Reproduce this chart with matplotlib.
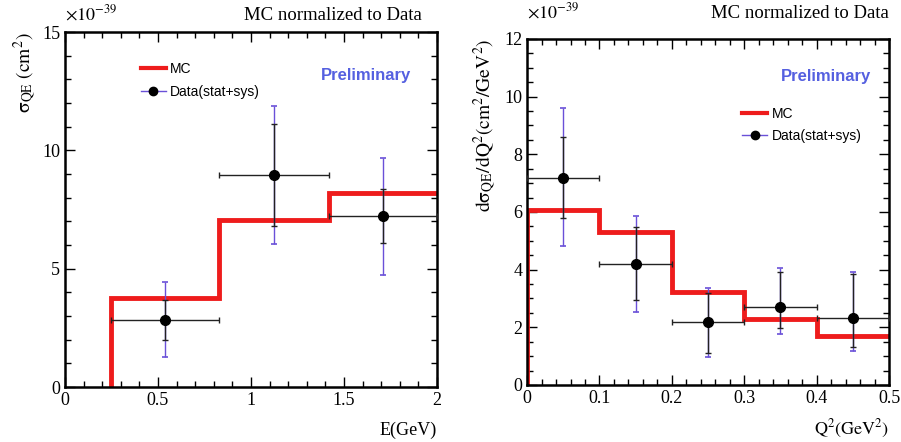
import numpy as np
import matplotlib
matplotlib.use("Agg")
import matplotlib.pyplot as plt
from matplotlib.ticker import MultipleLocator
from matplotlib.lines import Line2D

plt.rcParams["font.family"] = ["Liberation Serif", "DejaVu Serif"]
plt.rcParams["mathtext.fontset"] = "stix"

# Left panel: cross section vs neutrino energy (units of 1e-39 cm^2)
e_edges = [0.25, 0.83, 1.42, 2.0]
e_mc = [3.75, 7.05, 8.2]
e_x = [0.54, 1.125, 1.71]
e_y = [2.85, 8.95, 7.22]
e_stat_lo = [1.99, 6.8, 6.07]
e_stat_hi = [3.68, 11.1, 8.35]
e_tot_lo = [1.28, 6.03, 4.73]
e_tot_hi = [4.42, 11.87, 9.66]
e_ticks = [0, 0.5, 1, 1.5, 2]
e_ticklabels = ["0", "0.5", "1", "1.5", "2"]

# Right panel: dsigma/dQ2 (units of 1e-39 cm^2/GeV^2)
q_edges = [0.0, 0.1, 0.2, 0.3, 0.4, 0.5]
q_mc = [6.07, 5.32, 3.24, 2.29, 1.71]
q_x = [0.05, 0.15, 0.25, 0.35, 0.45]
q_y = [7.19, 4.2, 2.18, 2.72, 2.31]
q_stat_lo = [5.8, 2.95, 1.1, 1.97, 1.33]
q_stat_hi = [8.61, 5.47, 3.2, 3.91, 3.85]
q_tot_lo = [4.82, 2.54, 0.98, 1.77, 1.18]
q_tot_hi = [9.6, 5.86, 3.37, 4.05, 3.93]
q_ticks = [0, 0.1, 0.2, 0.3, 0.4, 0.5]
q_ticklabels = ["0", "0.1", "0.2", "0.3", "0.4", "0.5"]

RED = "#ee1c1c"
PURPLE = "#6a50d8"
BLUE_TXT = "#5560e0"


def draw_panel(ax, edges, mc, x, y, slo, shi, tlo, thi, lw_mc):
    edges = np.asarray(edges)
    mc = np.asarray(mc)
    xs = np.concatenate([[edges[0]], np.repeat(edges[1:-1], 2), [edges[-1]]])
    xs = np.concatenate([[edges[0]], xs])
    ys = np.concatenate([[0], np.repeat(mc, 2)])
    ax.plot(xs, ys, color=RED, lw=lw_mc, solid_joinstyle="miter", zorder=2)

    x = np.asarray(x)
    y = np.asarray(y)
    half = np.diff(edges) / 2
    ax.errorbar(x, y, yerr=[y - np.asarray(tlo), np.asarray(thi) - y], fmt="none",
                ecolor=PURPLE, elinewidth=1.0, capsize=2.5, capthick=1.2, zorder=3)
    ax.errorbar(x, y, yerr=[y - np.asarray(slo), np.asarray(shi) - y], xerr=half,
                fmt="o", color="black", ms=7, ecolor="#222222", elinewidth=1.0,
                capsize=2, capthick=1.0, zorder=4)

    for s in ax.spines.values():
        s.set_linewidth(1.8)
    ax.tick_params(which="both", direction="in", top=True, right=True, labelsize=13)
    ax.tick_params(which="major", length=7, width=1)
    ax.tick_params(which="minor", length=4, width=1)


fig = plt.figure(figsize=(9.01, 4.42), dpi=100)
ax1 = fig.add_axes([0.0721, 0.1244, 0.4129, 0.8032])
ax2 = fig.add_axes([0.585, 0.129, 0.4017, 0.7828])

leg_handles = [Line2D([], [], color=RED, lw=3),
               Line2D([], [], color=PURPLE, lw=1, marker="o", mfc="black", mec="black", ms=6)]
leg_labels = ["MC", "Data(stat+sys)"]

draw_panel(ax1, e_edges, e_mc, e_x, e_y, e_stat_lo, e_stat_hi, e_tot_lo, e_tot_hi, 3.5)
ax1.set_xticks(e_ticks)
ax1.set_xticklabels(e_ticklabels)
ax1.set_yticks([0, 5, 10, 15])
ax1.set_yticklabels(["0", "5", "10", "15"])
ax1.xaxis.set_minor_locator(MultipleLocator(0.1))
ax1.yaxis.set_minor_locator(MultipleLocator(1))
ax1.set_xlim(0, 2)
ax1.set_ylim(0, 15)
ax1.set_xlabel("E(GeV)", fontsize=13, loc="right", labelpad=9)
ax1.set_ylabel(r"$\mathrm{\sigma_{QE}\ (cm^2)}$", fontsize=14, loc="top", labelpad=2)
ax1.text(0.0, 1.035, r"$\mathrm{\times 10^{-39}}$", transform=ax1.transAxes, fontsize=13)
ax1.text(0.96, 1.035, "MC normalized to Data", transform=ax1.transAxes, fontsize=13.5, ha="right")
ax1.text(0.93, 0.865, "Preliminary", transform=ax1.transAxes, fontsize=12, ha="right",
         color=BLUE_TXT, family="Liberation Sans", weight="bold")
ax1.legend(leg_handles, leg_labels, loc="upper left", bbox_to_anchor=(0.17, 0.95),
           frameon=False, prop={"family": "Liberation Sans", "size": 10},
           handlelength=1.8, handletextpad=0.3, labelspacing=0.6)

draw_panel(ax2, q_edges, q_mc, q_x, q_y, q_stat_lo, q_stat_hi, q_tot_lo, q_tot_hi, 3.5)
ax2.set_xticks(q_ticks)
ax2.set_xticklabels(q_ticklabels)
ax2.set_yticks([0, 2, 4, 6, 8, 10, 12])
ax2.xaxis.set_minor_locator(MultipleLocator(0.02))
ax2.yaxis.set_minor_locator(MultipleLocator(0.5))
ax2.set_xlim(0, 0.5)
ax2.set_ylim(0, 12)
ax2.set_xlabel(r"$\mathrm{Q^2(GeV^2)}$", fontsize=13, loc="right", labelpad=8)
ax2.set_ylabel(r"$\mathrm{d\sigma_{QE}/dQ^2(cm^2/GeV^2)}$", fontsize=14, loc="top", labelpad=4)
ax2.text(0.0, 1.06, r"$\mathrm{\times 10^{-39}}$", transform=ax2.transAxes, fontsize=13)
ax2.text(1.0, 1.06, "MC normalized to Data", transform=ax2.transAxes, fontsize=13.5, ha="right")
ax2.text(0.95, 0.88, "Preliminary", transform=ax2.transAxes, fontsize=12, ha="right",
         color=BLUE_TXT, family="Liberation Sans", weight="bold")
ax2.legend(leg_handles, leg_labels, loc="upper left", bbox_to_anchor=(0.56, 0.84),
           frameon=False, prop={"family": "Liberation Sans", "size": 10},
           handlelength=1.8, handletextpad=0.3, labelspacing=0.6)

fig.savefig("out.png", dpi=100)
